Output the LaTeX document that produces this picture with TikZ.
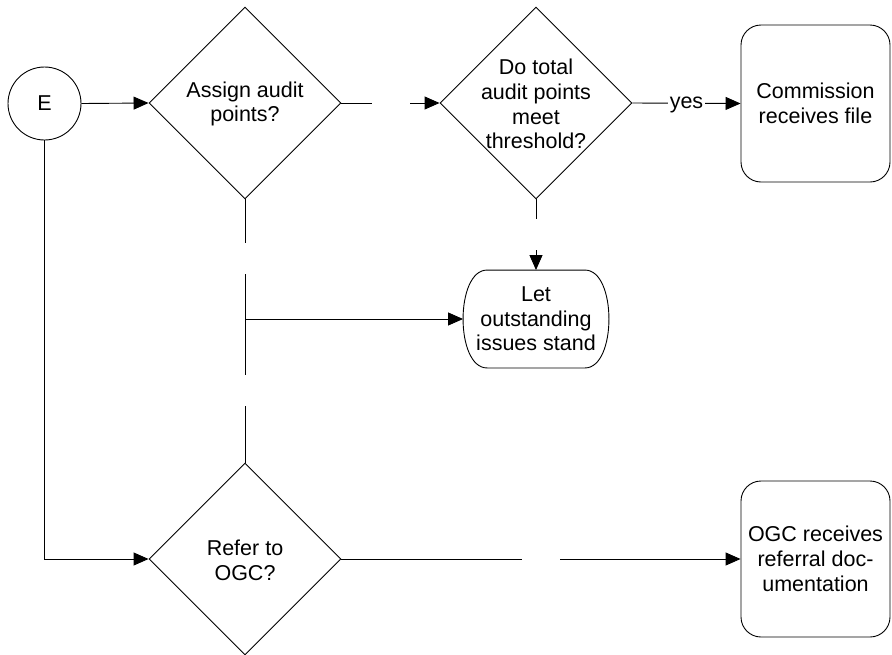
\documentclass[tikz,border=0pt]{standalone}
\usepackage{fontspec}
\setmainfont{Liberation Sans}
\usetikzlibrary{shapes.geometric,arrows.meta}
\begin{document}
\begin{tikzpicture}[x=1pt,y=-1pt,
  line width=0.9pt,
  every node/.style={font=\fontsize{21.5}{24.7}\selectfont},
  arr/.style={-{Triangle[length=15pt,width=13pt]}},
  startc/.style={circle,draw,minimum size=73pt,inner sep=0pt},
  dec/.style={diamond,draw,aspect=1,minimum width=192pt,minimum height=192pt,inner sep=0pt},
  txt/.style={align=center,inner sep=0pt},
  proc/.style={rectangle,draw,rounded corners=20pt,minimum width=149pt,inner sep=0pt,align=center},
  lbl/.style={fill=white,inner sep=2pt,yshift=-1.5pt}]
\useasboundingbox (0,0) rectangle (892,654);
% nodes
\node[startc] (E) at (44.5,103.5) {E};
\node[dec] (d1) at (245,103) {};
\node[txt] (d1t) at (245,104) {Assign audit\\points?};
\node[dec] (d2) at (536,103) {};
\node[txt] (d2t) at (536,104) {Do total\\audit points\\meet\\threshold?};
\node[proc,minimum height=157pt] (cf) at (815.5,103.5) {Commission\\receives file};
\node[txt,minimum width=145pt,minimum height=97pt] (let) at (536,319) {Let\\outstanding\\issues stand};
\draw ([xshift=24pt]let.north west) -- ([xshift=-24pt]let.north east)
  .. controls ([xshift=8pt]let.north east) and ([xshift=8pt]let.south east) .. ([xshift=-24pt]let.south east)
  -- ([xshift=24pt]let.south west)
  .. controls ([xshift=-8pt]let.south west) and ([xshift=-8pt]let.north west) .. cycle;
\node[dec] (d3) at (245,559) {};
\node[txt] (d3t) at (245,560) {Refer to\\OGC?};
\node[proc,minimum height=156pt] (ogc) at (815.5,559) {OGC receives\\referral doc-\\umentation};
% gap coordinates
\coordinate (g1a) at (372,103);
\coordinate (g1b) at (410,103);
\coordinate (g2a) at (536,219);
\coordinate (g2b) at (536,250);
\coordinate (g3a) at (245,243);
\coordinate (g3b) at (245,274);
\coordinate (g3c) at (245,375);
\coordinate (g3d) at (245,406);
\coordinate (g4a) at (522,559);
\coordinate (g4b) at (560,559);
% connectors
\draw[arr] (E.east) -- (d1.west);
\draw (d1.east) -- (g1a);
\draw[arr] (g1b) -- (d2.west);
\draw[arr] (d2.east) -- node[lbl] {yes} (cf.west);
\draw (d2.south) -- (g2a);
\draw[arr] (g2b) -- (let.north);
\draw (d1.south) -- (g3a);
\draw (g3b) -- (g3c);
\draw[arr] (g3b |- let.west) -- (let.west);
\draw (g3d) -- (d3.north);
\draw[arr] (E.south) |- (d3.west);
\draw (d3.east) -- (g4a);
\draw[arr] (g4b) -- (ogc.west);
\end{tikzpicture}
\end{document}
